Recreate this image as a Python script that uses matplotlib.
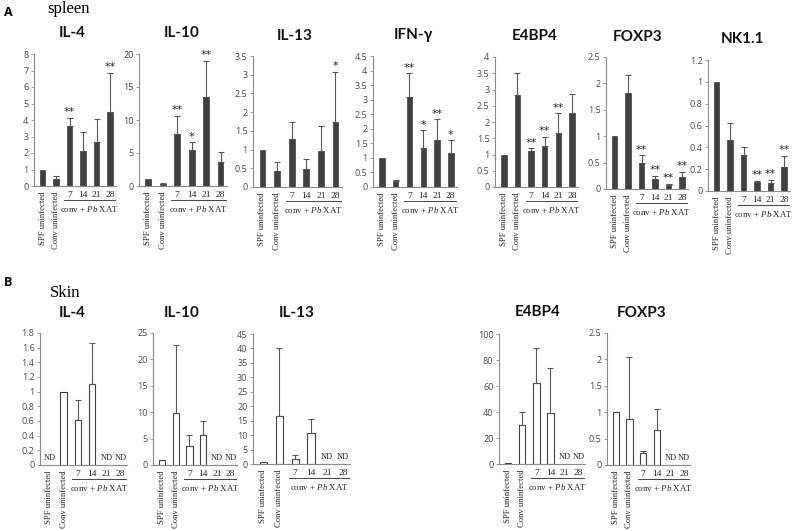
import matplotlib
matplotlib.use('Agg')
import matplotlib.pyplot as plt
import numpy as np

plt.rcParams['mathtext.fontset'] = 'custom'
plt.rcParams['mathtext.rm'] = 'Liberation Serif'
plt.rcParams['mathtext.it'] = 'Liberation Serif:italic'

W, H = 796, 531

groups = ['SPF uninfected', 'Conv uninfected', '7', '14', '21', '28']
group_caption = 'conv + $\\mathit{Pb}$ XAT'

# ---------------- spleen (panel A) ----------------
sp_il4 = [1.0, 0.45, 3.65, 2.15, 2.65, 4.5]
sp_il4_err = [0, 0.15, 0.5, 1.15, 1.4, 2.35]
sp_il4_sig = ['', '', '**', '', '', '**']

sp_il10 = [1.0, 0.3, 7.9, 5.4, 13.5, 3.6]
sp_il10_err = [0, 0.1, 2.7, 1.2, 5.5, 1.6]
sp_il10_sig = ['', '', '**', '*', '**', '']

sp_il13 = [1.0, 0.44, 1.28, 0.47, 0.95, 1.74]
sp_il13_err = [0, 0.24, 0.45, 0.28, 0.67, 1.33]
sp_il13_sig = ['', '', '', '', '', '*']

sp_ifng = [1.0, 0.2, 3.08, 1.35, 1.6, 1.18]
sp_ifng_err = [0, 0.05, 0.82, 0.6, 0.72, 0.42]
sp_ifng_sig = ['', '', '**', '*', '**', '*']

sp_e4bp4 = [1.0, 2.82, 1.12, 1.25, 1.65, 2.28]
sp_e4bp4_err = [0, 0.68, 0.07, 0.3, 0.62, 0.58]
sp_e4bp4_sig = ['', '', '**', '**', '**', '']

sp_foxp3 = [1.0, 1.81, 0.5, 0.18, 0.07, 0.22]
sp_foxp3_err = [0, 0.34, 0.14, 0.07, 0.03, 0.1]
sp_foxp3_sig = ['', '', '**', '**', '**', '**']

sp_nk11 = [1.0, 0.47, 0.33, 0.08, 0.07, 0.22]
sp_nk11_err = [0, 0.15, 0.07, 0.01, 0.03, 0.1]
sp_nk11_sig = ['', '', '', '**', '**', '**']

# ---------------- skin (panel B) ----------------
nd = np.nan
sk_il4 = [nd, 1.0, 0.62, 1.1, nd, nd]
sk_il4_err = [0, 0, 0.26, 0.56, 0, 0]

sk_il10 = [1.0, 9.8, 3.6, 5.7, nd, nd]
sk_il10_err = [0, 12.9, 2.1, 2.7, 0, 0]

sk_il13 = [0.8, 16.5, 1.8, 10.6, nd, nd]
sk_il13_err = [0, 23.8, 1.2, 4.9, 0, 0]

sk_e4bp4 = [1.0, 30.0, 62.5, 39.0, nd, nd]
sk_e4bp4_err = [0, 10.3, 27.0, 35.0, 0, 0]

sk_foxp3 = [1.0, 0.88, 0.22, 0.67, nd, nd]
sk_foxp3_err = [0, 1.17, 0.04, 0.39, 0, 0]

fig = plt.figure(figsize=(W / 100, H / 100), dpi=100)

DARK = '#404040'
AX = '#8a8a8a'
TXT = '#444444'
SERIF = 'Liberation Serif'


def make_ax(x0, x1, ytop, y0):
    return fig.add_axes([x0 / W, 1 - y0 / H, (x1 - x0) / W, (y0 - ytop) / H])


def panel(rect, title, title_xy, vals, errs, ymax, step, sig=None, skin=False):
    ax = make_ax(*rect)
    x = np.arange(len(groups))
    v = np.array(vals, dtype=float)
    e = np.array(errs, dtype=float)
    if skin:
        ax.bar(x, np.nan_to_num(v), width=0.45, color='white', edgecolor=DARK,
               linewidth=0.8, zorder=2)
    else:
        ax.bar(x, v, width=0.4, color=DARK, edgecolor=DARK, linewidth=0.5, zorder=2)
    m = (~np.isnan(v)) & (e > 0)
    ax.errorbar(x[m], v[m], yerr=[np.zeros(m.sum()), e[m]], fmt='none',
                ecolor='#555555', elinewidth=0.8, capsize=2, capthick=0.8, zorder=3)
    ax.set_xlim(-0.65, 5.45)
    ax.set_ylim(0, ymax)
    ticks = np.round(np.arange(0, ymax + step / 2, step), 6)
    ax.set_yticks(ticks)
    ax.set_yticklabels([f'{t:g}' for t in ticks], family='Open Sans', fontsize=6.5, color=TXT)
    ax.tick_params(axis='y', length=2.5, width=0.6, color=AX, pad=1.5)
    ax.set_xticks([])
    for s in ['top', 'right']:
        ax.spines[s].set_visible(False)
    for s in ['left', 'bottom']:
        ax.spines[s].set_color(AX)
        ax.spines[s].set_linewidth(0.8)
    ax.patch.set_alpha(0)
    tr = ax.get_xaxis_transform()
    for i in range(2):
        ax.annotate(groups[i], xy=(i, 0), xycoords=tr, xytext=(0, -4),
                    textcoords='offset points', rotation=90, ha='center', va='top',
                    family=SERIF, fontsize=6.2, color='#222222')
    for i in range(2, 6):
        ax.annotate(groups[i], xy=(i, 0), xycoords=tr, xytext=(0, -6.5),
                    textcoords='offset points', ha='center', va='center',
                    family=SERIF, fontsize=6.8, color='#222222')
    hpx = rect[3] - rect[2]
    yl = -14 / hpx
    ax.plot([1.6, 5.4], [yl, yl], transform=tr, color='#444444', lw=0.7, clip_on=False)
    ax.annotate(group_caption, xy=(3.5, 0), xycoords=tr, xytext=(0, -16.5),
                textcoords='offset points', ha='center', va='center',
                family=SERIF, fontsize=6.4, color='#222222')
    if sig is not None:
        for i, s in enumerate(sig):
            if s:
                ax.annotate(s, xy=(i, v[i] + e[i]), xytext=(0, 0.5),
                            textcoords='offset points', ha='center', va='bottom',
                            fontsize=8, color='#222222')
    if skin:
        for i in range(6):
            if np.isnan(v[i]):
                ax.annotate('ND', xy=(i, 0), xytext=(0, 2),
                            textcoords='offset points', ha='center', va='bottom',
                            family=SERIF, fontsize=6, color='#222222')
    fig.text(title_xy[0] / W, 1 - title_xy[1] / H, title, ha='center', va='center',
             family='Lato', fontweight='bold', fontsize=11, color='#111111')
    return ax


# Panel A: spleen
panel((34, 116, 54, 186), 'IL-4', (72, 33), sp_il4, sp_il4_err, 8, 1, sp_il4_sig)
panel((139, 227, 54, 186), 'IL-10', (182, 33), sp_il10, sp_il10_err, 20, 5, sp_il10_sig)
panel((253, 342, 56, 187), 'IL-13', (295, 36), sp_il13, sp_il13_err, 3.5, 0.5, sp_il13_sig)
panel((373, 457, 56, 187), 'IFN-γ', (413, 35), sp_ifng, sp_ifng_err, 4.5, 0.5, sp_ifng_sig)
panel((495, 578, 57, 187), 'E4BP4', (535, 36), sp_e4bp4, sp_e4bp4_err, 4, 0.5, sp_e4bp4_sig)
panel((606, 688, 57, 189), 'FOXP3', (638, 37), sp_foxp3, sp_foxp3_err, 2.5, 0.5, sp_foxp3_sig)
panel((708, 790, 60, 191), 'NK1.1', (743, 39), sp_nk11, sp_nk11_err, 1.2, 0.2, sp_nk11_sig)

# Panel B: skin
panel((40, 127, 333, 465), 'IL-4', (72, 313), sk_il4, sk_il4_err, 1.8, 0.2, skin=True)
panel((153, 237, 333, 465), 'IL-10', (182, 313), sk_il10, sk_il10_err, 25, 5, skin=True)
panel((253, 350, 334, 464), 'IL-13', (297, 313), sk_il13, sk_il13_err, 45, 5, skin=True)
panel((499, 585, 334, 464), 'E4BP4', (538, 312), sk_e4bp4, sk_e4bp4_err, 100, 20, skin=True)
panel((607, 690, 333, 465), 'FOXP3', (642, 313), sk_foxp3, sk_foxp3_err, 2.5, 0.5, skin=True)

fig.text(8 / W, 1 - 13 / H, 'A', family='Open Sans', fontweight='bold', fontsize=9,
         ha='center', va='center')
fig.text(47 / W, 1 - 9 / H, 'spleen', family=SERIF, fontsize=12, ha='left', va='center')
fig.text(8 / W, 1 - 283 / H, 'B', family='Open Sans', fontweight='bold', fontsize=9,
         ha='center', va='center')
fig.text(50 / W, 1 - 293 / H, 'Skin', family=SERIF, fontsize=12, ha='left', va='center')

fig.savefig('out.png', dpi=100)
